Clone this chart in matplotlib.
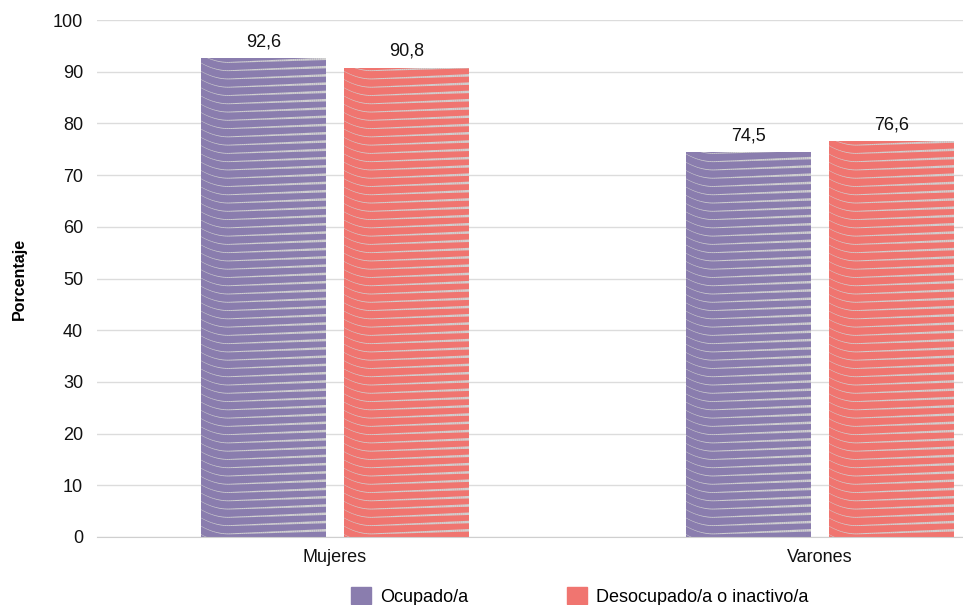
import numpy as np
import matplotlib.pyplot as plt
from matplotlib.patches import Patch
from matplotlib.collections import LineCollection

plt.rcParams['font.family'] = ['Liberation Sans', 'DejaVu Sans']
plt.rcParams['hatch.color'] = '#e2e2e2'

categorias = ["Mujeres", "Varones"]
series = ["Ocupado/a", "Desocupado/a o inactivo/a"]
ocupado = [92.6, 74.5]
desocupado = [90.8, 76.6]
colores = ["#8a7dae", "#f07570"]

fig = plt.figure(figsize=(9.63, 6.05), dpi=100)
ax = fig.add_axes([0.1007, 0.1124, 0.8993, 0.8545])

x = np.arange(len(categorias))
w = 0.258
off = 0.1475

barras = []
for i, (vals, col, lab) in enumerate(zip([ocupado, desocupado], colores, series)):
    pos = x + (off if i else -off)
    bc = ax.bar(pos, vals, width=w, color=col, label=lab, zorder=2)
    barras.append(bc)
    for p, v in zip(pos, vals):
        ax.text(p, v + 1.5, f"{v:.1f}".replace(".", ","), ha="center", va="bottom", fontsize=13, color="#111111")

# decorative swoosh lines inside each bar (thin at left, thicker at right)
u = np.linspace(0, 1, 60)
shape = np.where(u < 0.22, 1.5 * (1 - u / 0.22) ** 2, 0.7 * ((u - 0.22) / 0.78))
anchos = np.linspace(0.3, 1.8, len(u) - 1)
for bc in barras:
    for r in bc:
        x0, wd, h = r.get_x(), r.get_width(), r.get_height()
        segs = []
        for base in np.arange(-1.0, h + 2, 1.6):
            pts = np.column_stack([x0 + u * wd, base + shape])
            segs.extend(np.stack([pts[:-1], pts[1:]], axis=1))
        lc = LineCollection(segs, colors="#d0d0d0", linewidths=np.tile(anchos, len(segs) // len(anchos)),
                            zorder=3, capstyle="butt")
        ax.add_collection(lc)
        lc.set_clip_path(r.get_path(), r.get_transform())

ax.set_ylim(0, 100)
ax.set_xlim(-0.491, 1.295)
ax.set_yticks(np.arange(0, 101, 10))
ax.set_xticks(x)
ax.set_xticklabels(categorias)
ax.tick_params(axis="both", length=0, labelsize=13, colors="#111111")
ax.tick_params(axis="y", pad=10)
ax.tick_params(axis="x", pad=9)
ax.grid(axis="y", color="#dcdcdc", lw=1, zorder=0)
for s in ["top", "right", "left"]:
    ax.spines[s].set_visible(False)
ax.spines["bottom"].set_color("#cfcfcf")
ax.set_ylabel("Porcentaje", fontsize=11.5, fontweight="bold")
ax.yaxis.set_label_coords(-0.081, 0.5)

handles = [Patch(facecolor=c, edgecolor=c, hatch="-----") for c in colores]
fig.legend(handles, series, loc="upper left", bbox_to_anchor=(0.355, 0.045), ncol=2,
           frameon=False, fontsize=13, handlelength=1.1, handleheight=1.1,
           columnspacing=5.5, handletextpad=0.5, borderpad=0)

fig.savefig("out.png", dpi=100)
